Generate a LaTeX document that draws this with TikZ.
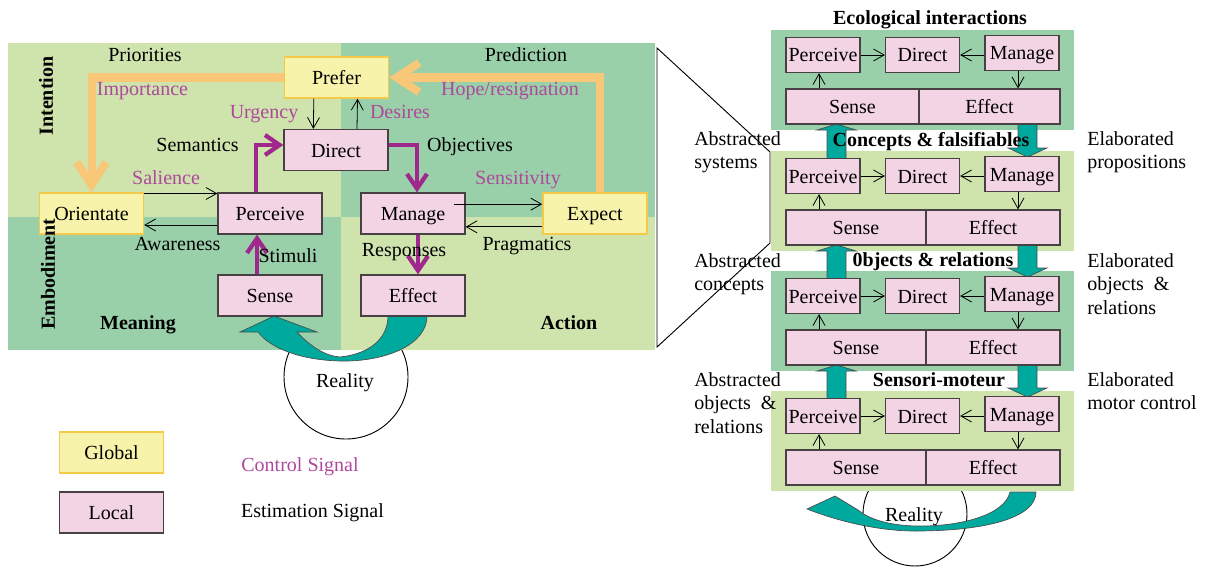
\documentclass[tikz,border=0pt]{standalone}
\usepackage{fontspec}
\setmainfont{Liberation Serif}
\usetikzlibrary{arrows.meta}
\definecolor{lightgreen}{HTML}{CFE3AD}
\definecolor{midgreen}{HTML}{9AD0A9}
\definecolor{localpink}{HTML}{F2D4E4}
\definecolor{globalyellow}{HTML}{F7F3AA}
\definecolor{goldline}{HTML}{F5CA4A}
\definecolor{orangeflow}{HTML}{F8C878}
\definecolor{ctrlpurple}{HTML}{A0288C}
\definecolor{tealflow}{HTML}{00A99D}
\tikzset{
  every node/.style={font=\fontsize{15}{17.6}\selectfont},
  localbox/.style={draw=black!70!localpink, line width=0.9pt, fill=localpink, inner sep=0pt, text height=11pt, text depth=0.5pt},
  globalbox/.style={draw=goldline, line width=1.1pt, fill=globalyellow, inner sep=0pt, text height=11pt, text depth=0.5pt, minimum width=78pt, minimum height=30.75pt},
  bigbox/.style={minimum width=78pt, minimum height=30.75pt},
  smallbox/.style={minimum width=55.5pt, minimum height=26.25pt},
  estarrow/.style={line width=0.6pt, -{Straight Barb[length=8pt,width=9pt]}},
  ctrlarrow/.style={ctrlpurple, line width=3.2pt, -{Straight Barb[length=11pt,width=15pt]}},
  prefarrow/.style={orangeflow, line width=6pt, -{Straight Barb[length=17pt,width=22pt]}},
  lbl/.style={anchor=base, inner sep=0pt},
  ctrltext/.style={lbl, text=ctrlpurple!85!white},
  boldlbl/.style={lbl, font=\fontsize{15}{17.6}\selectfont\bfseries},
  sidetext/.style={anchor=north west, inner sep=0pt, align=left},
  block/.style={fill=tealflow, draw=black!70, line width=0.5pt},
}
\begin{document}
\begin{tikzpicture}[x=0.75pt,y=-0.75pt]
\useasboundingbox (0,0) rectangle (1205,567);
% reality, half hidden by the panels
\draw[line width=0.7pt] (346,377) circle[radius=62];
\draw[line width=0.7pt] (915,514) circle[radius=52];
% left panel
\fill[lightgreen] (8,43) rectangle (341,217);
\fill[midgreen] (341,43) rectangle (655,217);
\fill[midgreen] (8,217) rectangle (341,350);
\fill[lightgreen] (341,217) rectangle (655,350);
% right stack
\foreach \t/\fc in {30/midgreen,151/lightgreen,271/midgreen,391/lightgreen}
  \fill[\fc] (771,\t) rectangle (1074,\t+100);
\draw[line width=0.7pt] (657,48) -- (770,152) -- (770,243) -- (657,347) -- cycle;
% teal flows
\filldraw[block] (427,316) .. controls (427,345) and (385,362) .. (340,361)
  .. controls (300,360) and (270,348) .. (258,332) -- (240,332) -- (274,316) -- (317,332) -- (297,332)
  .. controls (310,346) and (325,356) .. (340,357) .. controls (370,354) and (388,338) .. (388,316) -- cycle;
\foreach \ta/\tb in {30/151,151/271,271/391} {
  \filldraw[block] (827,\tb+8) -- (827,\ta+100) -- (817,\ta+100) -- (836.5,\ta+94) -- (856,\ta+100) -- (846,\ta+100) -- (846,\tb+8) -- cycle;
  \filldraw[block] (1018,\ta+94) -- (1018,\tb-3) -- (1008,\tb-3) -- (1027.5,\tb+6) -- (1047,\tb-3) -- (1037,\tb-3) -- (1037,\ta+94) -- cycle;
}
\filldraw[block] (1010,492) .. controls (1005,515) and (960,527) .. (915,526)
  .. controls (885,525) and (868,518) .. (858,510) -- (835,496) -- (807,509)
  .. controls (840,522) and (880,531) .. (915,531) .. controls (985,531) and (1036,518) .. (1036,492) -- cycle;
% left boxes
\node[globalbox] (prefer) at (336.5,77.5) {Prefer};
\node[localbox, bigbox] (direct) at (336,150) {Direct};
\node[globalbox] (orient) at (91.5,213.5) {Orientate};
\node[localbox, bigbox] (perceive) at (270,213.5) {Perceive};
\node[localbox, bigbox] (manage) at (413,213.5) {Manage};
\node[globalbox] (expect) at (595,213.5) {Expect};
\node[localbox, bigbox] (sense) at (270,295.5) {Sense};
\node[localbox, bigbox] (effect) at (413,295.5) {Effect};
% estimation signals
\draw[estarrow] ([xshift=-17pt]prefer.south) -- ([xshift=-17pt]direct.north);
\draw[estarrow] ([xshift=15.75pt]direct.north) -- ([xshift=15.75pt]prefer.south);
\draw[estarrow] ([yshift=15pt]orient.east) -- ([yshift=15pt]perceive.west);
\draw[estarrow] ([yshift=-8.6pt]perceive.west) -- ([yshift=-8.6pt]orient.east);
\draw[estarrow] ([xshift=-9pt,yshift=7pt]manage.east) -- ([yshift=7pt]expect.west);
\draw[estarrow] ([yshift=-10pt]expect.west) -- ([yshift=-10pt]manage.east);
% control signals
\draw[ctrlarrow] ([xshift=-10.5pt]perceive.north) |- ([yshift=3.75pt]direct.west);
\draw[ctrlarrow] ([yshift=3.75pt]direct.east) -| ([xshift=3pt]manage.north);
\draw[ctrlarrow] ([xshift=-9.75pt]sense.north) -- ([xshift=-9.75pt]perceive.south);
\draw[ctrlarrow] ([xshift=3.75pt]manage.south) -- ([xshift=3.75pt]effect.north);
\draw[prefarrow] (prefer.west) -| (orient.north);
\draw[prefarrow] ([xshift=3.75pt]expect.north) |- (prefer.east);
% left labels
\node[lbl] (priorities) at (145,62) {Priorities};
\node[ctrltext] (importance) at (142.5,95) {Importance};
\node[ctrltext] (urgency) at (264,118) {Urgency};
\node[lbl] (semantics) at (197.5,151) {Semantics};
\node[ctrltext] (salience) at (166,184) {Salience};
\node[lbl] (prediction) at (526,62) {Prediction};
\node[ctrltext] (hope) at (510,95) {Hope/resignation};
\node[ctrltext] (desires) at (400,118) {Desires};
\node[lbl] (objectives) at (470,151) {Objectives};
\node[ctrltext] (sensitivity) at (518,184) {Sensitivity};
\node[lbl] (awareness) at (177.5,250) {Awareness};
\node[lbl] (stimuli) at (288,262) {Stimuli};
\node[lbl] (responses) at (404,256) {Responses};
\node[lbl] (pragmatics) at (527,250) {Pragmatics};
\node[boldlbl] (meaning) at (138,329) {Meaning};
\node[boldlbl] (action) at (569,329) {Action};
\node[boldlbl, rotate=90, anchor=center] (intention) at (46,96) {Intention};
\node[boldlbl, rotate=90, anchor=center] (embodiment) at (48,274) {Embodiment};
\node[lbl] (realityl) at (345,387) {Reality};
% legend
\node[globalbox] (globalkey) at (111.5,452.5) {Global};
\node[localbox, bigbox] (localkey) at (111.5,512.5) {Local};
\node[ctrltext] (ctrlkey) at (300,471) {Control Signal};
\node[lbl] (estkey) at (312.5,517) {Estimation Signal};
% right stack boxes
\foreach \t/\split/\tx/\title [count=\i] in {30/919/930/Ecological interactions,151/926/931/Concepts \& falsifiables,271/926/933/0bjects \& relations,391/926/939/Sensori-moteur}{
  \pgfmathsetmacro\sw{(\split-786)*0.75}
  \pgfmathsetmacro\ew{(1060-\split)*0.75}
  \node[localbox, smallbox] (p\i) at (823,\t+25) {Perceive};
  \node[localbox, smallbox] (d\i) at (922.5,\t+25) {Direct};
  \node[localbox, smallbox] (m\i) at (1022,\t+23) {Manage};
  \node[localbox, minimum width=\sw pt, minimum height=26.25pt] (s\i) at ({(786+\split)/2},\t+76.5) {Sense};
  \node[localbox, minimum width=\ew pt, minimum height=26.25pt] (e\i) at ({(\split+1060)/2},\t+76.5) {Effect};
  \draw[estarrow] (p\i) -- (d\i);
  \draw[estarrow] (m\i.west |- d\i) -- (d\i);
  \draw[estarrow] ([xshift=-3pt]s\i.north -| p\i) -- ([xshift=-3pt]p\i.south);
  \draw[estarrow] ([xshift=-3pt]m\i.south) -- ([xshift=-3pt]m\i.south |- e\i.north);
  \node[boldlbl] (t\i) at (\tx,\t-5) {\title};
}
\node[lbl] (realityr) at (914,521) {Reality};
\node[sidetext] (abssys) at (694,131.3) {Abstracted\\systems};
\node[sidetext] (abscon) at (694,253.3) {Abstracted\\concepts};
\node[sidetext] (absobj) at (694,372.3) {Abstracted\\objects\enspace\&\\relations};
\node[sidetext] (elabprop) at (1087,131.3) {Elaborated\\propositions};
\node[sidetext] (elabobj) at (1087,253.3) {Elaborated\\objects\enspace\&\\relations};
\node[sidetext] (elabmot) at (1087,372.3) {Elaborated\\motor control};
\end{tikzpicture}
\end{document}
